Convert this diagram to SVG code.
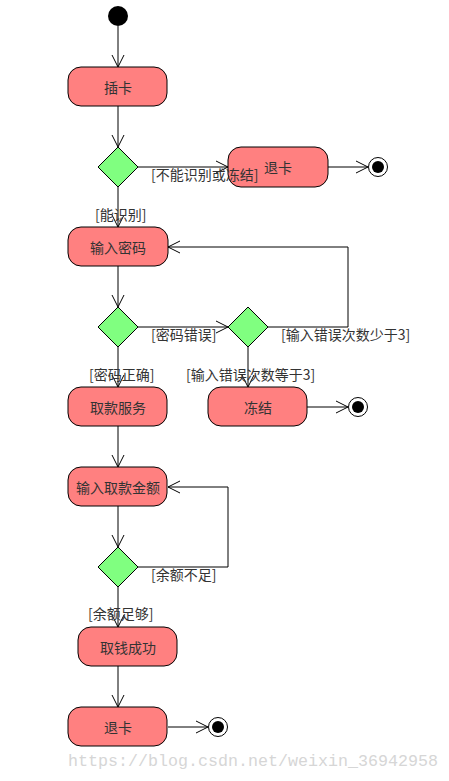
<svg xmlns="http://www.w3.org/2000/svg" width="449" height="781" viewBox="0 0 449 781">
<style>
.act{fill:#FF8080;stroke:#000;stroke-width:1}
.dec{fill:#80FF80;stroke:#000;stroke-width:1}
.t{font-family:"Noto Sans CJK SC","Liberation Sans",sans-serif;font-size:14px;fill:#333;text-anchor:middle;dominant-baseline:central}
.lbl{font-family:"Noto Sans CJK SC","Liberation Sans",sans-serif;font-size:14px;fill:#333}
.c{fill:none;stroke:#000;stroke-width:1;marker-end:url(#arr)}
.wm{font-family:"Liberation Mono",monospace;font-size:17px;fill:#d6d6d6}
</style>
<defs>
<marker id="arr" markerWidth="14" markerHeight="14" refX="13" refY="7" orient="auto" markerUnits="userSpaceOnUse">
<path d="M1,1 L13,7 L1,13" fill="none" stroke="#000" stroke-width="1"/>
</marker>
</defs>
<rect width="449" height="781" fill="#fff"/>
<g id="connectors">
<path class="c" d="M118,26 L118,67"/>
<path class="c" d="M118,106 L118,147"/>
<path class="c" d="M138,167 L228,167"/>
<path class="c" d="M328,167 L368,167"/>
<path class="c" d="M118,187 L118,227"/>
<path class="c" d="M118,266 L118,307"/>
<path class="c" d="M138,327 L228,327"/>
<path class="c" d="M268,327 L348,327 L348,247 L168,247"/>
<path class="c" d="M248,347 L248,387"/>
<path class="c" d="M307,407 L348,407"/>
<path class="c" d="M118,347 L118,387"/>
<path class="c" d="M118,426 L118,467"/>
<path class="c" d="M118,506 L118,547"/>
<path class="c" d="M138,567 L228,567 L228,487 L168,487"/>
<path class="c" d="M118,587 L118,627"/>
<path class="c" d="M118,666 L118,707"/>
<path class="c" d="M168,727 L208,727"/>
</g>
<g id="start"><circle cx="118" cy="16" r="10" fill="#000"/></g>
<g id="n_insert"><rect class="act" x="68" y="67" width="99" height="39" rx="13"/><text class="t" x="118" y="87">插卡</text></g>
<g id="d1"><polygon class="dec" points="118,147 138,167 118,187 98,167"/></g>
<g id="n_eject1"><rect class="act" x="228" y="147" width="100" height="40" rx="13"/><text class="t" x="278" y="167">退卡</text></g>
<g id="end1"><circle cx="378" cy="167" r="9.5" fill="#fff" stroke="#000"/><circle cx="378" cy="167" r="6" fill="#000"/></g>
<g id="n_pwd"><rect class="act" x="68" y="227" width="100" height="39" rx="13"/><text class="t" x="118" y="247">输入密码</text></g>
<g id="d2"><polygon class="dec" points="118,307 138,327 118,347 98,327"/></g>
<g id="d3"><polygon class="dec" points="248,307 268,327 248,347 228,327"/></g>
<g id="n_service"><rect class="act" x="68" y="387" width="99" height="39" rx="13"/><text class="t" x="118" y="407">取款服务</text></g>
<g id="n_freeze"><rect class="act" x="208" y="387" width="99" height="39" rx="13"/><text class="t" x="258" y="407">冻结</text></g>
<g id="end2"><circle cx="358" cy="407" r="9.5" fill="#fff" stroke="#000"/><circle cx="358" cy="407" r="6" fill="#000"/></g>
<g id="n_amount"><rect class="act" x="68" y="467" width="99" height="39" rx="13"/><text class="t" x="118" y="487">输入取款金额</text></g>
<g id="d4"><polygon class="dec" points="118,547 138,567 118,587 98,567"/></g>
<g id="n_success"><rect class="act" x="78" y="627" width="99" height="39" rx="13"/><text class="t" x="128" y="647">取钱成功</text></g>
<g id="n_eject2"><rect class="act" x="68" y="707" width="99" height="39" rx="13"/><text class="t" x="118" y="727">退卡</text></g>
<g id="end3"><circle cx="218" cy="727" r="9.5" fill="#fff" stroke="#000"/><circle cx="218" cy="727" r="6" fill="#000"/></g>
<g id="labels">
<text class="lbl" x="151" y="180">[不能识别或冻结]</text>
<text class="lbl" x="95" y="220">[能识别]</text>
<text class="lbl" x="151" y="340">[密码错误]</text>
<text class="lbl" x="281" y="340">[输入错误次数少于3]</text>
<text class="lbl" x="89" y="380">[密码正确]</text>
<text class="lbl" x="186" y="380">[输入错误次数等于3]</text>
<text class="lbl" x="151" y="580">[余额不足]</text>
<text class="lbl" x="88" y="619">[余额足够]</text>
</g>
<text class="wm" x="68" y="766" textLength="370" lengthAdjust="spacingAndGlyphs">https://blog.csdn.net/weixin_36942958</text>
</svg>
